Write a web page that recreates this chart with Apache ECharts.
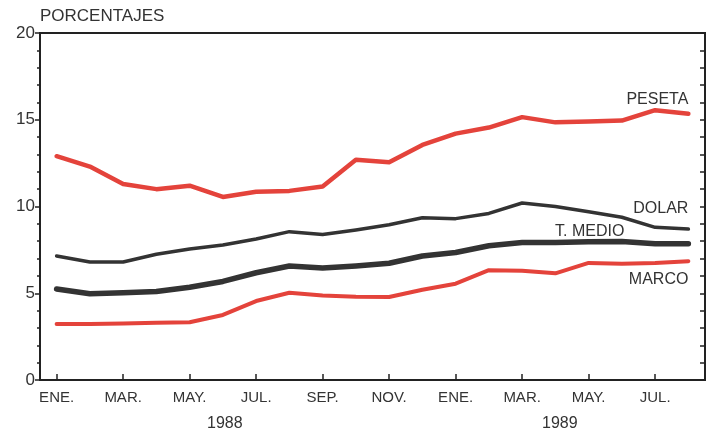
<!DOCTYPE html>
<html>
<head>
<meta charset="utf-8">
<script src="https://cdn.jsdelivr.net/npm/echarts@6/dist/echarts.min.js"></script>
<style>
html,body{margin:0;padding:0;background:#fff;}
#chart{width:714px;height:435px;}
</style>
</head>
<body>
<div id="chart"></div>
<script>
const months = ['ENE.','FEB.','MAR.','ABR.','MAY.','JUN.','JUL.','AGO.','SEP.','OCT.','NOV.','DIC.',
                'ENE.','FEB.','MAR.','ABR.','MAY.','JUN.','JUL.','AGO.'];
const years = ['1988','1989'];
const peseta = [12.9,12.3,11.3,11.0,11.2,10.55,10.85,10.9,11.15,12.7,12.55,13.55,14.2,14.55,15.15,14.85,14.9,14.95,15.55,15.35];
const dolar  = [7.15,6.8,6.8,7.25,7.55,7.78,8.13,8.55,8.38,8.65,8.95,9.35,9.3,9.6,10.2,10.0,9.7,9.38,8.8,8.7];
const tmedio = [5.25,4.97,5.03,5.1,5.35,5.68,6.18,6.57,6.45,6.57,6.73,7.15,7.35,7.74,7.92,7.92,7.97,7.98,7.85,7.85];
const marco  = [3.23,3.23,3.25,3.3,3.33,3.75,4.55,5.03,4.87,4.8,4.78,5.2,5.55,6.33,6.3,6.15,6.75,6.7,6.75,6.85];

const RED = '#e4433b';
const BLACK = '#333333';
const FONT = 'Liberation Sans';

const chart = echarts.init(document.getElementById('chart'));
function lineSeries(name, data, color, width, label, offset){
  return {
    name: name, type: 'line', data: data, symbol: 'none',
    lineStyle: {color: color, width: width, join: 'round', cap: 'round'},
    itemStyle: {color: color},
    endLabel: {show: true, formatter: label, align: 'right', verticalAlign: 'middle',
      distance: 0, offset: offset, color: '#333', fontFamily: FONT, fontSize: 16},
    z: 3
  };
}
chart.setOption({
  animation: false,
  backgroundColor: '#fff',
  textStyle: {fontFamily: FONT},
  grid: {left: 40, right: 9, top: 33, bottom: 55, show: true, borderColor: '#222', borderWidth: 2},
  xAxis: {
    type: 'category', data: months, boundaryGap: true,
    axisLine: {lineStyle: {color: '#222', width: 2}},
    axisTick: {show: true, inside: true, interval: 1, alignWithLabel: true, length: 6, lineStyle: {color: '#222', width: 1.5}},
    axisLabel: {interval: 1, color: '#333', fontFamily: FONT, fontSize: 15, margin: 10},
    splitLine: {show: false}
  },
  yAxis: [{
    type: 'value', min: 0, max: 20, interval: 5,
    axisLine: {show: true, lineStyle: {color: '#222', width: 2}},
    axisTick: {show: true, length: 5, lineStyle: {color: '#222', width: 1.5}},
    minorTick: {show: true, splitNumber: 5, length: 3, lineStyle: {color: '#222', width: 1.5}},
    axisLabel: {color: '#333', fontFamily: FONT, fontSize: 17, margin: 5},
    splitLine: {show: false}
  },{
    type: 'value', min: 0, max: 20, interval: 5, position: 'right',
    axisLine: {show: true, lineStyle: {color: '#222', width: 2}},
    axisTick: {show: true, inside: true, length: 5, lineStyle: {color: '#222', width: 1.5}},
    minorTick: {show: true, splitNumber: 5, length: 5, lineStyle: {color: '#222', width: 1.5}},
    axisLabel: {show: false},
    splitLine: {show: false}
  }],
  series: [
    lineSeries('PESETA', peseta, RED, 4.5, 'PESETA', [0, -14]),
    lineSeries('DOLAR', dolar, BLACK, 3.5, 'DOLAR', [0, -20]),
    lineSeries('T. MEDIO', tmedio, BLACK, 5.5, 'T. MEDIO', [-64, -12]),
    lineSeries('MARCO', marco, RED, 4, 'MARCO', [0, 18])
  ],
  graphic: [
    {type: 'text', left: 40, top: 8, style: {text: 'PORCENTAJES', fill: '#333', font: '17px "Liberation Sans"'}},
    {type: 'text', left: 207, top: 416, style: {text: years[0], fill: '#333', font: '16px "Liberation Sans"'}},
    {type: 'text', left: 542, top: 416, style: {text: years[1], fill: '#333', font: '16px "Liberation Sans"'}}
  ]
});
</script>
</body>
</html>
